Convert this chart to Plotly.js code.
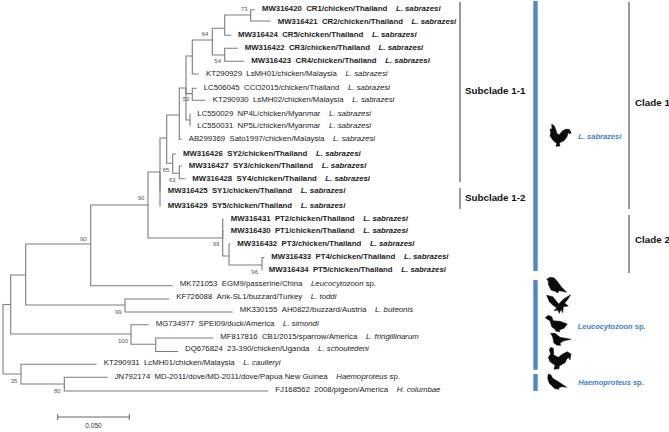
<!DOCTYPE html>
<html>
<head>
<meta charset="utf-8">
<script src="https://cdn.plot.ly/plotly-3.0.1.min.js"></script>
<style>html,body{margin:0;padding:0;background:#fff}</style>
</head>
<body>
<div id="chart" style="width:669px;height:432px"></div>
<script>
// internal tree nodes: id, parent, x (distance), y (row)
var nodeIds = ['root','A','B','C','D','E','F','G','H','I','J','K','L','M','N','O','P','Q','R','S','T','PT','PU','PV','D3','B3'];
var nodeParents = ['','root','root','A','A','C','C','E','G','H','I','J','K','L','M','N','M','K','K','I','S','G','PT','PU','D','B'];
var nodeX = [3,10.7,21,25.7,131,90.7,125,148,160,166.7,179.3,186,192.3,212.3,224.7,250.7,224.7,192.3,190,172.7,179.3,222.7,229,262,155.7,64.3];
var nodeY = [304.5,304.5,374,275,334,244,305,205,172,138,115,88,56,40,28.3,15,55,93.6,120,163.3,173.3,238,256,265,344.3,384];

// leaves: accession, strain, species, parent, tip x, branch row, label row
var leafAcc = ['MW316420','MW316421','MW316424','MW316422','MW316423','KT290929','LC506045','KT290930','LC550029','LC550031','AB299369','MW316426','MW316427','MW316428','MW316425','MW316429','MW316431','MW316430','MW316432','MW316433','MW316434','MK721053','KF726088','MK330155','MG734977','MF817816','DQ676824','KT290931','JN792174','FJ168562'];
var leafStrain = ['CR1/chicken/Thailand','CR2/chicken/Thailand','CR5/chicken/Thailand','CR3/chicken/Thailand','CR4/chicken/Thailand','LsMH01/chicken/Malaysia','CCO2015/chicken/Thailand','LsMH02/chicken/Malaysia','NP4L/chicken/Myanmar','NP5L/chicken/Myanmar','Sato1997/chicken/Malaysia','SY2/chicken/Thailand','SY3/chicken/Thailand','SY4/chicken/Thailand','SY1/chicken/Thailand','SY5/chicken/Thailand','PT2/chicken/Thailand','PT1/chicken/Thailand','PT3/chicken/Thailand','PT4/chicken/Thailand','PT5/chicken/Thailand','EGM9/passerine/China','Ank-SL1/buzzard/Turkey','AH0822/buzzard/Austria','SPEI09/duck/America','CB1/2015/sparrow/America','23-390/chicken/Uganda','LcMH01/chicken/Malaysia','MD-2011/dove/MD-2011/dove/Papua New Guinea','2008/pigeon/America'];
var leafSpecies = ['L. sabrazesi','L. sabrazesi','L. sabrazesi','L. sabrazesi','L. sabrazesi','L. sabrazesi','L. sabrazesi','L. sabrazesi','L. sabrazesi','L. sabrazesi','L. sabrazesi','L. sabrazesi','L. sabrazesi','L. sabrazesi','L. sabrazesi','L. sabrazesi','L. sabrazesi','L. sabrazesi','L. sabrazesi','L. sabrazesi','L. sabrazesi','Leucocytozoon|sp.','L. toddi','L. buteonis','L. simondi','L. fringillinarum','L. schoutedeni','L. caulleryi','Haemoproteus|sp.','H. columbae'];
var leafParents = ['O','O','N','P','P','L','Q','Q','R','R','J','S','T','T','H','H','PT','PT','PU','PV','PV','E','F','F','D','D3','D3','B','B3','B3'];
var leafX = [255,270.7,231,237.7,244.3,199,196.7,205.7,190.3,190.3,181.7,176,181.7,185.3,160.7,160.7,223.7,223.7,230.3,264.3,262,172.7,169.3,232.7,148.7,213.3,178,96.7,107.7,268.3];
var leafY = [9.7,21,35.3,48.3,61.3,74,88.3,100.3,114.3,125.7,139.3,154,166,178.7,191.3,206,219.3,231,244,257.6,270,285.7,299,312,324.7,338,351.5,364.3,377.3,391];
var labelY = [9,22,35.3,48.3,61,74,88.3,100.3,114.3,125.7,139.3,154,166,178.7,191.3,206,219.3,231,243.7,257.3,269.7,284,297.3,309.7,324.3,337,349.3,363,377,389.7];

// bootstrap support
var supportVal = ['73','64','54','53','65','63','90','90','99','96','99','100','35','80'];
var supportX = [244.3,205,217.7,186,166,172.3,141,83.3,216,254.7,118.3,123,14,57.3];
var supportY = [9.7,34.3,61.7,99.3,170,180.3,198.7,239.3,244.7,272.7,312,341.7,381.7,391.3];

// scale bar
var scaleX = [57.7,129.3];
var scaleY = 417;
var scaleText = '0.050';

// clade brackets and blue bars
var bracketX = [460,460,629,629];
var bracketTop = [2,188,2,215];
var bracketBottom = [182,209,209,273];
var barTop = [1,280,374];
var barBottom = [271,369.7,391];

var groupLabels = ['Subclade 1-1','Subclade 1-2','Clade 1','Clade 2'];
var groupX = [465,465,635,635];
var groupY = [91.7,198.3,103.7,240.3];

var hostLabels = ['<b><i>L. sabrazesi</i></b>','<b><i>Leucocytozoon</i> sp.</b>','<b><i>Haemoproteus</i> sp.</b>'];
var hostX = [578.3,577.7,578.3];
var hostY = [137,327,382.7];

// host silhouettes, traced at 3x from their own crop origin
var birds = [
  {ox:500,oy:100,pts:[[155,72],[163,78],[168,90],[170,100],[178,104],[186,94],[196,88],[208,88],[214,99],[208,101],[206,96],[200,112],[192,122],[182,127],[178,130],[180,138],[168,139],[170,130],[160,122],[150,108],[152,98],[150,88],[156,86]]},
  {ox:335,oy:216,pts:[[635,190],[645,184],[658,186],[670,200],[680,214],[695,229],[682,226],[672,224],[668,231],[660,226],[648,222],[640,205],[640,195]]},
  {ox:510,oy:280,pts:[[110,46],[128,50],[146,72],[160,58],[182,44],[172,60],[164,70],[175,78],[160,80],[158,98],[153,88],[148,100],[143,90],[132,92],[140,84],[128,75],[118,65]]},
  {ox:510,oy:280,pts:[[106,113],[115,106],[125,110],[130,122],[150,124],[172,132],[162,145],[148,150],[150,155],[138,154],[135,148],[125,140],[120,122],[112,118]]},
  {ox:510,oy:280,pts:[[122,160],[135,160],[150,172],[183,178],[160,183],[150,190],[152,196],[142,196],[132,190],[128,172]]},
  {ox:510,oy:280,pts:[[122,202],[130,205],[131,225],[145,232],[158,222],[172,215],[183,222],[180,240],[175,232],[170,238],[165,248],[148,258],[147,266],[132,268],[135,256],[120,245],[115,232],[122,222],[118,210]]},
  {ox:510,oy:280,pts:[[115,282],[122,284],[128,295],[150,308],[170,322],[155,320],[145,324],[148,328],[135,326],[130,322],[118,310],[113,295]]}
];

// build elbow branches
var treeX = [], treeY = [];
function addBranch(parent, x, y) {
  var p = nodeIds.indexOf(parent);
  treeX.push(nodeX[p], nodeX[p], x, null);
  treeY.push(nodeY[p], y, y, null);
}
nodeIds.forEach(function(id, i) {
  if (nodeParents[i]) addBranch(nodeParents[i], nodeX[i], nodeY[i]);
});
leafAcc.forEach(function(a, i) {
  addBranch(leafParents[i], leafX[i], leafY[i]);
});

var sp = '\u00A0\u00A0';
var leafText = leafAcc.map(function(a, i) {
  var parts = leafSpecies[i].split('|');
  var name = '<i>' + parts[0] + '</i>' + (parts[1] ? ' ' + parts[1] : '');
  var t = a + sp + leafStrain[i] + sp + sp + name;
  return (a.indexOf('MW') === 0) ? '<b>' + t + '</b>' : t;
});
var labelX = leafX.map(function(x) { return x + 7; });
labelX[leafAcc.indexOf('MW316434')] = 268.7;

var font = 'Liberation Sans, Arial, sans-serif';

var data = [
  {x: treeX, y: treeY, mode: 'lines', line: {color: '#7d7d7d', width: 1.1}, hoverinfo: 'skip'},
  {x: [scaleX[0],scaleX[1],null,scaleX[0],scaleX[0],null,scaleX[1],scaleX[1]],
   y: [scaleY,scaleY,null,scaleY-3,scaleY+3,null,scaleY-3,scaleY+3],
   mode: 'lines', line: {color: '#666', width: 1}, hoverinfo: 'skip'},
  {x: labelX, y: labelY, mode: 'text', text: leafText, textposition: 'middle right',
   textfont: {family: font, size: 7.8, color: '#222'}, hoverinfo: 'skip', cliponaxis: false},
  {x: supportX, y: supportY, mode: 'text', text: supportVal, textposition: 'middle center',
   textfont: {family: font, size: 6, color: '#555'}, hoverinfo: 'skip'},
  {x: [(scaleX[0]+scaleX[1])/2], y: [426.3], mode: 'text', text: [scaleText], textposition: 'middle center',
   textfont: {family: font, size: 6.5, color: '#333'}, hoverinfo: 'skip'},
  {x: groupX, y: groupY, mode: 'text', text: groupLabels.map(function(g) { return '<b>' + g + '</b>'; }),
   textposition: 'middle right', textfont: {family: font, size: 9.8, color: '#111'}, hoverinfo: 'skip', cliponaxis: false},
  {x: hostX, y: hostY, mode: 'text', text: hostLabels, textposition: 'middle right',
   textfont: {family: font, size: 7.5, color: '#3f7fc4'}, hoverinfo: 'skip'}
];

var shapes = [];
bracketX.forEach(function(x, i) {
  shapes.push({type: 'line', xref: 'x', yref: 'y', x0: x, x1: x, y0: bracketTop[i], y1: bracketBottom[i],
    line: {color: '#9a9a9a', width: 2}});
});
barTop.forEach(function(t, i) {
  shapes.push({type: 'rect', xref: 'x', yref: 'y', x0: 533.3, x1: 537.7, y0: t, y1: barBottom[i],
    fillcolor: '#4f88c6', line: {width: 0}});
});
birds.forEach(function(b) {
  var path = b.pts.map(function(p, i) {
    return (i ? 'L' : 'M') + (b.ox + p[0] / 3).toFixed(1) + ',' + (b.oy + p[1] / 3).toFixed(1);
  }).join(' ') + ' Z';
  shapes.push({type: 'path', xref: 'x', yref: 'y', path: path, fillcolor: '#0a0a0a', line: {color: '#0a0a0a', width: 0.5}});
});

var layout = {
  width: 669,
  height: 432,
  margin: {l: 0, r: 0, t: 0, b: 0},
  showlegend: false,
  paper_bgcolor: '#fff',
  plot_bgcolor: '#fff',
  xaxis: {range: [0, 669], visible: false, fixedrange: true},
  yaxis: {range: [432, 0], visible: false, fixedrange: true},
  shapes: shapes
};

Plotly.newPlot('chart', data, layout, {displayModeBar: false, staticPlot: true});
</script>
</body>
</html>
